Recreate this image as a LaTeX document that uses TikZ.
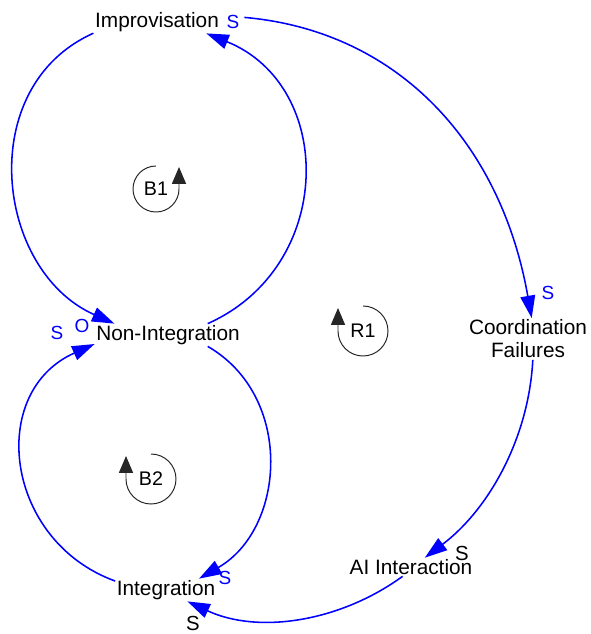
\documentclass[tikz,border=0pt]{standalone}
\usepackage{fontspec}
\setmainfont{Liberation Sans}
\usetikzlibrary{arrows.meta}
\definecolor{linkblue}{RGB}{0,0,255}

\begin{document}
\begin{tikzpicture}[scale=0.25]
\tikzstyle{every node}+=[inner sep=0pt]
\tikzstyle{var}=[inner sep=1pt, align=center, font=\fontsize{14.8}{16.4}\selectfont]
\tikzstyle{link}=[draw=linkblue, line width=1.1pt, -{Triangle[length=16pt,width=10.5pt]}]
\tikzstyle{pol}=[text=linkblue, font=\fontsize{13.5}{13.5}\selectfont]
\tikzstyle{polk}=[text=black, font=\fontsize{14.5}{14.5}\selectfont]
\tikzstyle{looplabel}=[font=\fontsize{14}{14}\selectfont]
\tikzstyle{loopmark}=[draw=black!85, line width=0.7pt, -{Triangle[length=12pt,width=10pt]}]
\useasboundingbox (0,0) rectangle (59,-63.4);
\node [var] (impro) at (15.7,-2.2) {Improvisation};
\node [var] (nonint) at (16.8,-33.5) {Non-Integration};
\node [var] (coord) at (52.8,-33.9) {Coordination\\Failures};
\node [var] (ai) at (41.1,-56.7) {AI Interaction};
\node [var] (integ) at (16.6,-59.0) {Integration};
\draw [link] (impro.190) to [out=204, in=156, looseness=1.15] (nonint.168);
\draw [link] (nonint.16) to [out=24, in=-22, looseness=1.23] (impro.347);
\draw [link, shorten <=17pt] (impro.6) to [out=-5, in=100, looseness=1.05] (coord.80);
\draw [link] (coord.283) to [out=267, in=37, looseness=0.9] (ai.34);
\draw [link] (ai.228) to [out=216, in=-25, looseness=0.92] (integ.332);
\draw [link] (nonint.344) to [out=-30, in=30, looseness=1.1] (integ.19);
\draw [link] (integ.170) to [out=160, in=204, looseness=1.27] (nonint.187);
\node [pol] (p1) at (23.3,-2.2) {S};
\node [pol] (p2) at (54.8,-29.3) {S};
\node [polk] (p3) at (46.2,-55.3) {S};
\node [pol] (p4) at (22.5,-57.8) {S};
\node [polk] (p5) at (19.3,-62.3) {S};
\node [pol] (p6) at (5.7,-33.3) {S};
\node [pol] (p7) at (8.2,-32.6) {O};
\node [looplabel] (b1) at (15.6,-18.9) {B1};
\draw [loopmark] (b1.center) ++(0,2.3) arc [start angle=90, end angle=360, radius=2.3] -- ++(0,2.2);
\node [looplabel] (r1) at (36.3,-33.1) {R1};
\draw [loopmark] (r1.center) ++(0,2.5) arc [start angle=90, end angle=-180, radius=2.5] -- ++(0,2.3);
\node [looplabel] (b2) at (15.1,-47.9) {B2};
\draw [loopmark] (b2.center) ++(0,2.5) arc [start angle=90, end angle=-180, radius=2.5] -- ++(0,2.3);
\end{tikzpicture}
\end{document}
